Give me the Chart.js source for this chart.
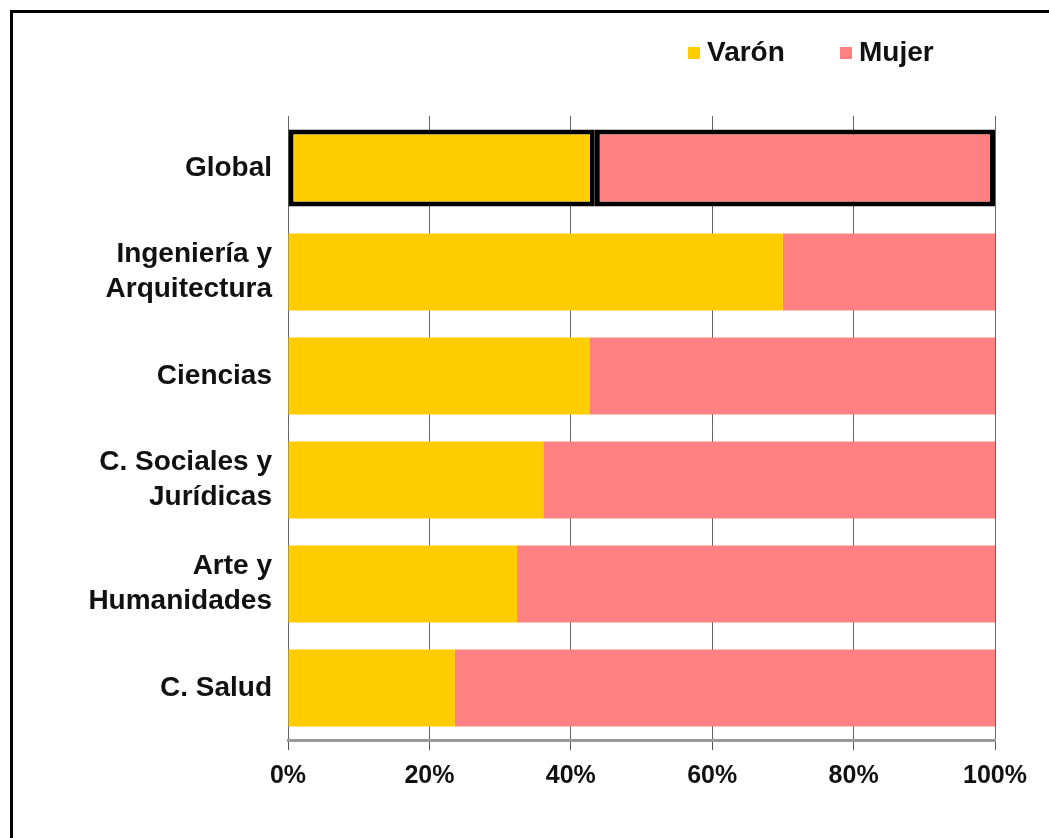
<!DOCTYPE html>
<html>
<head>
<meta charset="utf-8">
<script src="https://cdn.jsdelivr.net/npm/chart.js@4"></script>
<style>
  html, body { margin: 0; padding: 0; background: #fff; }
  #wrap { position: relative; width: 1049px; height: 838px; overflow: hidden; }
  #frame { position: absolute; left: 10px; top: 10px; width: 1100px; height: 900px;
           border-top: 3px solid #000; border-left: 3px solid #000; box-sizing: border-box; }
  #chart { position: absolute; left: 0; top: 0; }
  .leg { position: absolute; top: 36px; font: bold 28px "Liberation Sans", Arial, sans-serif; color: #111; }
  .leg span { display: inline-block; width: 12px; height: 12px; margin-right: 7px; vertical-align: 2px; }
</style>
</head>
<body>
<div id="wrap">
  <div id="frame"></div>
  <canvas id="chart" width="1049" height="838"></canvas>
  <div class="leg" style="left:688px"><span style="background:#FFCC00"></span>Varón</div>
  <div class="leg" style="left:840px"><span style="background:#FF8080"></span>Mujer</div>
</div>
<script>
// datos (%)
const categorias = ['Global', ['Ingeniería y', 'Arquitectura'], 'Ciencias', ['C. Sociales y', 'Jurídicas'], ['Arte y', 'Humanidades'], 'C. Salud'];
const varon = [43.4, 70.0, 42.7, 36.1, 32.4, 23.6];
const mujer = [56.6, 30.0, 57.3, 63.9, 67.6, 76.4];
const ticksX = [0, 20, 40, 60, 80, 100];

const font = 'Liberation Sans';

const ctx = document.getElementById('chart').getContext('2d');
new Chart(ctx, {
    type: 'bar',
    data: {
        labels: categorias,
        datasets: [{
            label: 'Varón',
            data: varon,
            backgroundColor: '#FFCC00',
            borderColor: '#000',
            borderWidth: c => c.dataIndex === 0 ? 5 : 0,
            borderSkipped: false,
            barPercentage: 0.74,
            categoryPercentage: 1
        }, {
            label: 'Mujer',
            data: mujer,
            backgroundColor: '#FF8080',
            borderColor: '#000',
            borderWidth: c => c.dataIndex === 0 ? 5 : 0,
            borderSkipped: false,
            barPercentage: 0.74,
            categoryPercentage: 1
        }]
    },
    options: {
        indexAxis: 'y',
        responsive: false,
        animation: false,
        layout: { padding: { top: 116, right: 54, left: 0, bottom: 0 } },
        plugins: {
            legend: { display: false },
            tooltip: { enabled: false }
        },
        scales: {
            x: {
                stacked: true,
                min: 0,
                max: 100,
                afterBuildTicks: s => { s.ticks = ticksX.map(v => ({ value: v })); },
                afterFit: s => { s.height = 98; },
                grid: {
                    color: '#666',
                    borderDash: [4, 3],
                    tickLength: 10,
                    tickColor: '#555',
                    tickBorderDash: []
                },
                border: { display: true, color: '#999', width: 3 },
                ticks: {
                    padding: 11,
                    color: '#111',
                    font: { family: font, size: 25, weight: 'bold' },
                    callback: v => v + '%'
                }
            },
            y: {
                stacked: true,
                afterFit: s => { s.width = 288; },
                grid: { display: false },
                border: { display: false },
                ticks: {
                    padding: 8,
                    color: '#111',
                    font: { family: font, size: 28, weight: 'bold', lineHeight: 1.25 }
                }
            }
        }
    }
});
</script>
</body>
</html>
